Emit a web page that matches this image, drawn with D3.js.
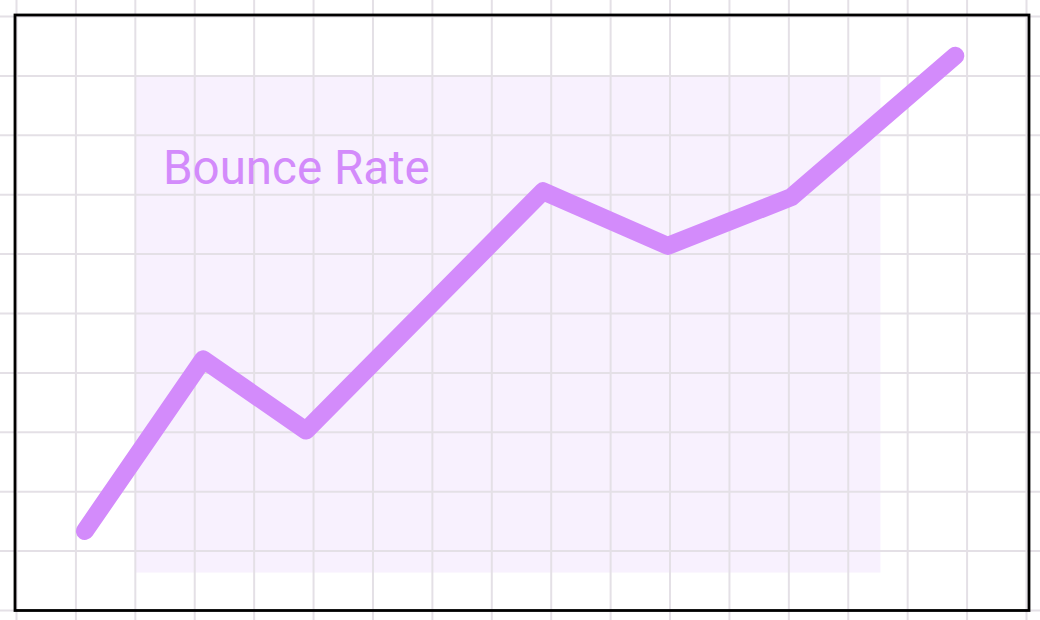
<!DOCTYPE html>
<html>
<head>
<meta charset="utf-8">
<script src="https://cdn.jsdelivr.net/npm/d3@7"></script>
<style>
html,body{margin:0;padding:0;background:#fff;}
svg{display:block;}
</style>
</head>
<body>
<svg id="chart" width="1040" height="620"></svg>
<script>
// Data (in grid units)
const seriesName = "Bounce Rate";
const xValues = [1.16, 3.15, 4.88, 8.87, 10.97, 13.05, 15.81];
const yValues = [1.33, 4.22, 3.02, 7.05, 6.13, 6.95, 9.33];
const gridXTicks = d3.range(0, 18);
const gridYTicks = d3.range(0, 11);

const W = 1040, H = 620;
const svg = d3.select("#chart");
const x = d3.scaleLinear().domain([0, 17]).range([16, 1026]);
const y = d3.scaleLinear().domain([0, 10]).range([610, 16]);

svg.append("rect").attr("width", W).attr("height", H).attr("fill", "#fff");

// Shaded panel
svg.append("rect")
  .attr("x", x(2)).attr("y", y(9))
  .attr("width", x(14.55) - x(2)).attr("height", y(0.63) - y(9))
  .attr("fill", "#f8f1fe");

// Grid via axes
const gx = svg.append("g").attr("transform", `translate(0,${H})`)
  .call(d3.axisTop(x).tickValues(gridXTicks).tickSize(H).tickFormat(""));
const gy = svg.append("g")
  .call(d3.axisRight(y).tickValues(gridYTicks).tickSize(W).tickFormat(""));
gx.select(".domain").remove(); gy.select(".domain").remove();
svg.selectAll(".tick line").attr("stroke", "#e4e0e6").attr("stroke-width", 2);
svg.append("g").selectAll("line").data([-1, 18]).join("line")
  .attr("x1", d => x(d)).attr("x2", d => x(d)).attr("y1", 0).attr("y2", H)
  .attr("stroke", "#e4e0e6").attr("stroke-width", 2);

// Border
svg.append("rect")
  .attr("x", 15).attr("y", 15).attr("width", 1014).attr("height", 595.5)
  .attr("fill", "none").attr("stroke", "#000").attr("stroke-width", 2.8);

// Label
svg.append("text")
  .attr("x", 163).attr("y", 184)
  .attr("font-family", "Roboto, sans-serif")
  .attr("font-size", 47.5)
  .attr("fill", "#d38bfb")
  .text(seriesName);

// Line
const pts = xValues.map((v, i) => [v, yValues[i]]);
svg.append("path")
  .datum(pts)
  .attr("d", d3.line().x(d => x(d[0])).y(d => y(d[1])))
  .attr("fill", "none")
  .attr("stroke", "#d38bfb")
  .attr("stroke-width", 18)
  .attr("stroke-linecap", "round")
  .attr("stroke-linejoin", "round");
</script>
</body>
</html>
